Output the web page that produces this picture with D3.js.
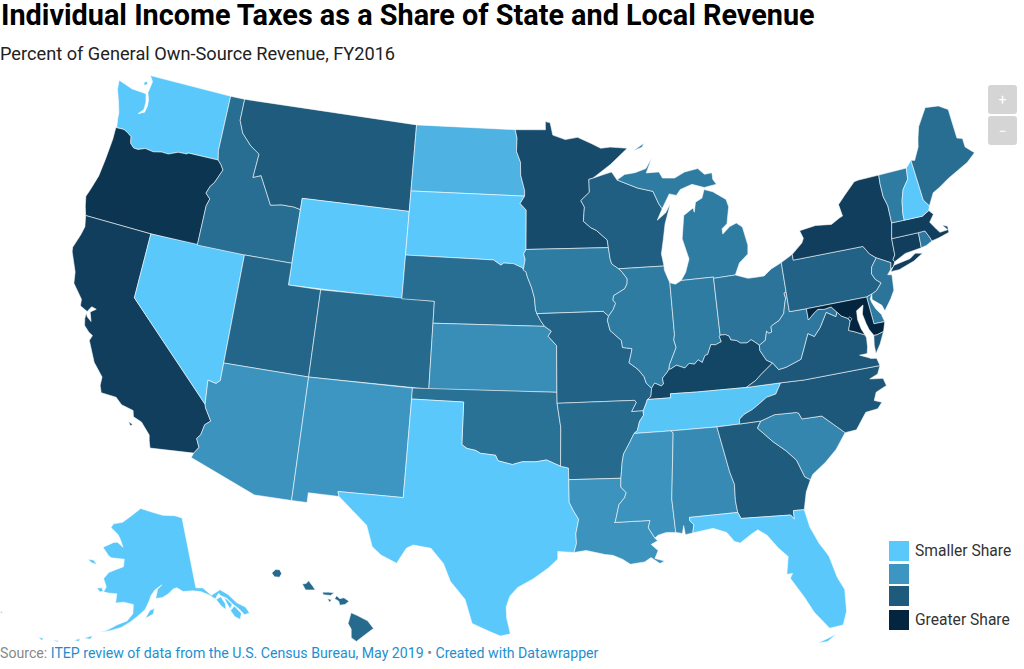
<!DOCTYPE html>
<html>
<head>
<meta charset="utf-8">
<script src="https://d3js.org/d3.v7.min.js"></script>
<style>
  body { margin: 0; background: #fff; font-family: Roboto, sans-serif; }
  svg { display: block; }
</style>
</head>
<body>
<script>
var stateNames = ["WA","OR","CA","NV","ID","MT","WY","UT","AZ","CO","NM","ND","SD","NE","KS","OK","TX","MN","IA","MO","AR","LA","WI","IL","MI","IN","OH","KY","TN","MS","AL","GA","FL","SC","NC","VA","WV","PA","NY","NJ","DE","MD","DC","CT","RI","MA","VT","NH","ME","AK","HI"]
var stateShares = [0,22.5,21,0,14,16.5,0,15,8.7,14.5,8.3,3.5,0,14,9.5,13.5,0,19,12,15.5,14.5,8.7,16,12,12,12,13,20,0.5,8.7,10,16.5,0,10.5,17,17,12.5,15.5,21,13,12,25,25,21,12.5,21,12,0,14,0,14.5]

var legendLabels = ["Smaller Share","","","Greater Share"]
var legendShares = [0,8.33,16.67,25]
var legendColors = ["#5ac8fa","#3d96c1","#1e5a7c","#03253f"]

// shared borders, lon/lat
var columbia = [[-124.0,46.25],[-123.45,46.27],[-123.17,46.18],[-122.88,46.05],[-122.78,45.75],[-122.5,45.58],[-122.2,45.57],[-121.75,45.70],[-121.2,45.65],[-120.65,45.74],[-120.2,45.73],[-119.6,45.92],[-119.0,45.94],[-118.98,46.0],[-116.92,46.0]]
var snake = [[-117.03,42.0],[-117.03,43.83],[-116.90,44.18],[-117.22,44.40],[-117.05,44.75],[-116.84,44.95],[-116.47,45.60],[-116.67,45.82],[-116.92,46.0]]
var idMt = [[-116.05,49.0],[-116.05,48.0],[-115.7,47.45],[-115.0,46.95],[-114.35,46.65],[-114.45,45.55],[-113.95,45.7],[-113.45,45.05],[-113.0,44.45],[-112.3,44.55],[-111.5,44.55],[-111.05,44.48]]
var coloradoCa = [[-114.63,35.0],[-114.57,34.85],[-114.14,34.30],[-114.43,34.08],[-114.54,33.6],[-114.72,33.40],[-114.50,33.02],[-114.72,32.72]]
var coloradoNv = [[-114.04,36.19],[-114.25,36.02],[-114.74,36.1],[-114.63,35.0]]
var redRiver = [[-100.0,34.56],[-99.7,34.40],[-99.2,34.32],[-98.95,34.20],[-98.1,34.13],[-97.95,33.88],[-97.15,33.72],[-96.6,33.85],[-95.85,33.85],[-95.25,33.93],[-94.48,33.64]]
var txLa = [[-94.04,33.02],[-94.04,31.99],[-93.82,31.6],[-93.55,31.2],[-93.72,30.55],[-93.7,30.1],[-93.84,29.69]]
var neNorth = [[-104.05,43.0],[-98.5,43.0],[-98.02,42.77],[-97.85,42.87],[-97.25,42.85],[-96.72,42.68],[-96.45,42.49]]
var iaNe = [[-96.45,42.49],[-96.35,42.23],[-96.1,41.78],[-95.92,41.3],[-95.85,40.75],[-95.77,40.58]]
var moNe = [[-95.77,40.58],[-95.55,40.26],[-95.31,40.0]]
var ksMo = [[-95.31,40.0],[-94.9,39.78],[-95.1,39.55],[-94.6,39.12],[-94.62,37.0]]
var sdIa = [[-96.45,42.49],[-96.62,42.55],[-96.5,43.05],[-96.6,43.3],[-96.45,43.5]]
var ndMn = [[-97.23,49.0],[-97.1,48.6],[-97.13,48.0],[-96.85,47.5],[-96.83,46.9],[-96.56,46.2],[-96.56,45.94]]
var sdMn = [[-96.56,45.94],[-96.85,45.6],[-96.45,45.3],[-96.45,43.5]]
var mnWi = [[-92.02,46.71],[-92.29,46.66],[-92.29,46.07],[-92.87,45.7],[-92.65,45.4],[-92.75,44.75],[-92.3,44.45],[-91.92,44.3],[-91.27,43.85],[-91.22,43.5]]
var iaWi = [[-91.22,43.5],[-91.15,43.0],[-91.06,42.75],[-90.64,42.51]]
var iaIl = [[-90.64,42.51],[-90.42,42.33],[-90.15,42.03],[-90.18,41.8],[-90.34,41.59],[-91.05,41.3],[-91.1,41.1],[-90.95,40.95],[-91.12,40.67],[-91.42,40.38]]
var moIl = [[-91.42,40.38],[-91.5,40.2],[-91.37,39.73],[-90.72,39.25],[-90.68,38.93],[-90.12,38.85],[-90.2,38.6],[-90.35,38.22],[-89.85,37.9],[-89.52,37.55],[-89.42,37.25],[-89.13,37.0]]
var moKy = [[-89.13,37.0],[-89.2,36.63],[-89.42,36.5]]
var moTn = [[-89.42,36.5],[-89.52,36.3],[-89.7,36.0]]
var arTn = [[-89.7,36.0],[-89.7,35.8],[-89.95,35.53],[-90.1,35.13],[-90.3,35.0]]
var arMs = [[-90.3,35.0],[-90.58,34.6],[-90.95,34.1],[-91.05,33.75],[-91.17,33.0]]
var laMs = [[-91.17,33.0],[-91.2,32.6],[-90.92,32.33],[-91.03,32.1],[-91.35,31.8],[-91.58,31.05],[-91.63,31.0],[-89.73,31.0],[-89.84,30.67],[-89.53,30.18]]
var ohWv = [[-80.52,40.64],[-80.66,40.58],[-80.61,40.35],[-80.73,40.08],[-80.87,39.68],[-81.22,39.39],[-81.56,39.27],[-81.75,39.18],[-81.75,38.93],[-81.93,38.89],[-82.05,39.0],[-82.2,38.6],[-82.59,38.42]]
var ohKy = [[-82.59,38.42],[-82.84,38.6],[-83.03,38.72],[-83.3,38.6],[-83.67,38.63],[-83.9,38.77],[-84.23,38.83],[-84.3,39.01],[-84.51,39.1],[-84.82,39.1]]
var inKy = [[-84.82,39.1],[-84.88,39.06],[-84.8,38.8],[-85.17,38.69],[-85.43,38.73],[-85.68,38.3],[-85.85,38.26],[-86.05,37.96],[-86.28,38.1],[-86.52,37.92],[-86.82,37.98],[-87.1,37.79],[-87.58,37.95],[-87.93,37.8],[-88.03,37.8]]
var ilKy = [[-88.03,37.8],[-88.16,37.66],[-88.45,37.42],[-88.42,37.15],[-88.56,37.07],[-88.93,37.22],[-89.13,37.0]]
var ilIn = [[-87.53,41.71],[-87.53,39.35],[-87.6,39.1],[-87.5,38.75],[-87.98,38.0],[-88.03,37.8]]
var kyTn = [[-89.42,36.5],[-88.07,36.5],[-88.07,36.68],[-86.5,36.65],[-83.68,36.6]]
var kyVa = [[-83.68,36.6],[-83.1,36.85],[-82.72,37.1],[-81.97,37.54]]
var kyWv = [[-81.97,37.54],[-82.3,37.7],[-82.6,38.17],[-82.59,38.42]]
var tnNc = [[-84.32,34.99],[-84.29,35.21],[-84.0,35.4],[-83.5,35.57],[-83.1,35.77],[-82.6,36.03],[-82.05,36.12],[-81.68,36.59]]
var alGa = [[-85.61,34.98],[-85.18,32.87],[-85.0,32.3],[-85.05,31.55],[-85.0,31.0]]
var msAl = [[-88.2,35.0],[-88.1,34.89],[-88.47,31.9],[-88.4,30.37]]
var flAl = [[-85.0,31.0],[-87.6,31.0],[-87.6,30.85],[-87.4,30.65],[-87.5,30.28]]
var gaFl = [[-81.45,30.72],[-82.03,30.75],[-82.05,30.36],[-82.21,30.57],[-84.86,30.71],[-85.0,31.0]]
var savannah = [[-83.11,35.0],[-83.35,34.7],[-82.6,34.0],[-81.95,33.5],[-81.45,33.0],[-81.15,32.2],[-80.87,32.03]]
var scNc = [[-83.11,35.0],[-82.3,35.2],[-81.05,35.15],[-80.93,35.1],[-80.8,34.82],[-79.67,34.8],[-78.55,33.87]]
var vaWv = [[-77.72,39.32],[-77.83,39.13],[-78.35,39.4],[-78.87,38.77],[-79.3,38.42],[-79.65,38.6],[-80.3,37.5],[-81.23,37.25],[-81.68,37.2],[-81.97,37.54]]
var mdWv = [[-79.48,39.72],[-79.48,39.2],[-79.07,39.47],[-78.8,39.6],[-78.45,39.55],[-78.0,39.6],[-77.72,39.32]]
var potomac = [[-76.35,38.05],[-76.95,38.3],[-77.25,38.4],[-77.05,38.79],[-77.12,38.93],[-77.5,39.1],[-77.72,39.32]]
var nyVt = [[-73.35,45.01],[-73.4,44.6],[-73.4,44.0],[-73.25,43.55],[-73.27,42.75]]
var vtNh = [[-71.5,45.01],[-71.6,44.5],[-72.05,44.1],[-72.3,43.6],[-72.45,43.0],[-72.46,42.73]]
var nhMe = [[-71.08,45.3],[-70.98,43.4],[-70.7,43.07]]
var maNorth = [[-73.27,42.75],[-72.46,42.73],[-71.3,42.7],[-70.82,42.87]]
var maRi = [[-71.8,42.02],[-71.38,42.02],[-71.2,41.7],[-71.12,41.5]]
var ctNy = [[-73.5,42.05],[-73.55,41.3],[-73.73,41.1],[-73.65,41.0]]
var nyNj = [[-73.9,41.0],[-74.7,41.36],[-75.05,41.6],[-75.35,42.0]]
var njPa = [[-74.7,41.36],[-75.1,41.0],[-75.2,40.7],[-75.05,40.42],[-74.75,40.2],[-75.13,39.9],[-75.45,39.8]]

function rev(a) { return a.slice().reverse() }

var stateRings = {
  WA: [[[-117.04,49.0],[-122.76,49.0],[-122.5,48.75],[-122.55,48.45],[-122.6,48.2],[-122.42,47.9],[-122.38,47.6],[-122.45,47.3],[-122.85,47.15],[-122.55,47.4],[-122.55,47.75],[-122.7,48.13],[-123.1,48.15],[-123.7,48.17],[-124.72,48.38],[-124.65,47.95],[-124.35,47.45],[-124.1,46.95],[-124.05,46.65],[-123.95,46.27]].concat(columbia,[[-117.04,46.43]]),
      [[-123.05,48.62],[-122.85,48.7],[-122.78,48.58],[-122.98,48.48]]],
  OR: [[[-124.0,46.25],[-123.97,45.7],[-124.05,44.7],[-124.15,43.9],[-124.4,43.2],[-124.55,42.84],[-124.4,42.4],[-124.21,42.0],[-120.0,42.0]].concat(snake,rev(columbia))],
  CA: [[[-124.21,42.0],[-120.0,42.0],[-120.0,39.0]].concat(coloradoCa,[[-117.12,32.53],[-117.25,32.85],[-117.32,33.1],[-117.9,33.6],[-118.4,33.75],[-118.5,34.02],[-119.2,34.15],[-119.6,34.42],[-120.47,34.45],[-120.63,34.75],[-120.65,35.15],[-121.3,35.7],[-121.9,36.6],[-121.8,36.85],[-122.05,36.95],[-122.4,37.2],[-122.5,37.5],[-122.5,37.75],[-122.38,37.6],[-122.1,37.45],[-122.3,37.85],[-122.0,38.05],[-122.3,38.1],[-122.48,37.84],[-122.95,38.0],[-123.0,38.3],[-123.7,38.9],[-123.82,39.4],[-124.35,40.25],[-124.4,40.45],[-124.15,41.1],[-124.05,41.5]]),
      [[-118.6,33.48],[-118.35,33.4],[-118.45,33.32]]],
  NV: [[[-120.0,42.0],[-114.04,42.0],[-114.04,36.19]].concat(coloradoNv.slice(1),[[-120.0,39.0]])],
  ID: [[[-117.04,49.0]].concat(idMt,[[-111.05,42.0],[-114.04,42.0]],snake,[[-117.04,46.43]])],
  MT: [[[-116.05,49.0],[-104.05,49.0],[-104.05,45.0],[-111.05,45.0]].concat(rev(idMt))],
  WY: [[[-111.05,45.0],[-104.05,45.0],[-104.05,41.0],[-111.05,41.0]]],
  UT: [[[-114.04,42.0],[-111.05,42.0],[-111.05,41.0],[-109.05,41.0],[-109.05,37.0],[-114.04,37.0]]],
  AZ: [[[-114.04,37.0],[-109.05,37.0],[-109.05,31.33],[-111.07,31.33],[-114.81,32.5]].concat(rev(coloradoCa),rev(coloradoNv))],
  CO: [[[-109.05,41.0],[-102.05,41.0],[-102.05,37.0],[-109.05,37.0]]],
  NM: [[[-109.05,37.0],[-103.0,37.0],[-103.0,36.5],[-103.06,32.0],[-106.62,32.0],[-106.53,31.78],[-108.21,31.78],[-108.21,31.33],[-109.05,31.33]]],
  ND: [[[-104.05,49.0]].concat(ndMn,[[-104.05,45.94]])],
  SD: [[[-104.05,45.94]].concat(sdMn,rev(sdIa),rev(neNorth))],
  NE: [neNorth.concat(iaNe,moNe,[[-102.05,40.0],[-102.05,41.0],[-104.05,41.0]])],
  KS: [[[-102.05,40.0]].concat(ksMo,[[-102.05,37.0]])],
  OK: [[[-103.0,37.0],[-94.62,37.0],[-94.62,36.5],[-94.43,35.4]].concat(rev(redRiver),[[-100.0,36.5],[-103.0,36.5]])],
  TX: [[[-103.0,36.5],[-100.0,36.5]].concat(redRiver,[[-94.04,33.55]],txLa,[[-94.7,29.75],[-94.7,29.4],[-95.2,29.0],[-96.0,28.5],[-96.8,28.1],[-97.2,27.7],[-97.38,27.2],[-97.35,26.7],[-97.15,25.96],[-97.65,25.85],[-98.2,26.05],[-99.1,26.4],[-99.5,27.5],[-100.3,28.3],[-100.7,29.1],[-101.4,29.77],[-102.35,29.87],[-102.7,29.7],[-103.15,28.98],[-104.0,29.3],[-104.5,29.65],[-104.9,30.6],[-106.0,31.4],[-106.53,31.78],[-106.62,32.0],[-103.06,32.0]])],
  MN: [[[-97.23,49.0],[-95.15,49.0],[-95.15,49.38],[-94.82,49.32],[-94.65,48.75],[-93.8,48.53],[-92.95,48.62],[-92.0,48.3],[-91.4,48.07],[-90.75,48.1],[-89.6,48.0],[-90.8,47.3]].concat(mnWi,rev(sdMn),rev(ndMn))],
  IA: [[[-96.45,43.5]].concat(mnWi.slice(-1),iaWi,iaIl,[[-91.73,40.61],[-95.77,40.58]],rev(iaNe),sdIa)],
  MO: [[[-95.77,40.58],[-91.73,40.61]].concat(moIl,moKy,moTn,[[-90.37,36.0],[-90.07,36.4],[-90.15,36.5],[-94.62,36.5]],rev(ksMo),rev(moNe))],
  AR: [[[-94.62,36.5],[-90.15,36.5],[-90.07,36.4],[-90.37,36.0]].concat(arTn,arMs,[[-94.04,33.02],[-94.04,33.55],[-94.48,33.64],[-94.43,35.4]])],
  LA: [laMs.concat([[-89.4,30.05],[-89.75,29.9],[-89.4,29.6],[-89.6,29.25],[-89.1,29.1],[-89.35,29.0],[-89.8,29.3],[-90.15,29.12],[-90.9,29.05],[-91.3,29.3],[-91.8,29.5],[-92.2,29.55],[-93.2,29.77]],rev(txLa))],
  WI: [mnWi.concat(iaWi,[[-87.8,42.49],[-87.9,43.05],[-87.7,43.7],[-87.5,44.4],[-87.05,45.28],[-87.4,44.9],[-87.98,44.6],[-87.6,45.1],[-87.8,45.35],[-88.1,45.93],[-89.1,46.14],[-90.42,46.57],[-90.75,46.95],[-91.2,46.87]])],
  IL: [iaIl.slice(0,1).concat([[-87.8,42.49],[-87.8,42.3],[-87.6,41.85]],ilIn,ilKy,rev(moIl),rev(iaIl))],
  MI: [[[-90.42,46.57],[-89.9,46.8],[-89.2,46.85],[-88.45,47.0],[-88.0,47.47],[-88.45,46.8],[-87.6,46.8],[-87.4,46.5],[-86.6,46.45],[-85.9,46.68],[-85.0,46.77],[-84.6,46.47],[-84.1,46.5],[-84.1,46.2],[-83.9,45.95],[-84.72,45.87],[-85.5,46.08],[-86.3,45.9],[-86.6,45.65],[-87.05,45.75],[-87.6,45.1],[-87.8,45.35],[-88.1,45.93],[-89.1,46.14]],
      [[-86.82,41.76],[-86.5,42.1],[-86.2,42.7],[-86.5,43.65],[-86.25,44.7],[-85.6,45.0],[-85.55,44.8],[-85.4,45.25],[-84.95,45.4],[-84.75,45.78],[-84.2,45.63],[-83.4,45.2],[-83.3,44.85],[-83.55,44.1],[-83.9,43.9],[-83.9,43.65],[-83.4,43.95],[-82.95,44.07],[-82.6,43.85],[-82.42,43.0],[-82.5,42.6],[-83.1,42.25],[-83.45,41.73],[-84.81,41.7],[-84.81,41.76]],
      [[-89.2,47.87],[-88.45,48.17],[-88.6,48.0]]],
  IN: [[[-87.53,41.71],[-87.2,41.62],[-86.82,41.76],[-84.81,41.76]].concat(inKy,rev(ilIn))],
  OH: [[[-84.81,41.7],[-83.45,41.73],[-82.7,41.5],[-82.0,41.5],[-81.7,41.5],[-81.2,41.77],[-80.52,41.98]].concat(ohWv,ohKy)],
  KY: [kyTn.concat(kyVa,kyWv,ohKy,inKy,ilKy,moKy)],
  TN: [[[-90.3,35.0],[-88.2,35.0],[-85.61,34.98]].concat(tnNc,[[-83.68,36.6]],rev(kyTn),moTn,arTn)],
  MS: [[[-90.3,35.0]].concat(msAl,[[-88.9,30.4],[-89.35,30.3]],rev(laMs),rev(arMs))],
  AL: [[[-88.2,35.0]].concat(alGa,flAl,[[-87.9,30.23],[-87.95,30.65],[-88.05,30.3]],rev(msAl))],
  GA: [alGa.concat(rev(gaFl),[[-81.2,31.5]],rev(savannah),[[-84.32,34.99]])],
  FL: [[[-87.6,31.0],[-85.0,31.0]].concat(rev(gaFl),[[-81.3,29.9],[-80.95,29.1],[-80.55,28.45],[-80.3,27.4],[-80.03,26.8],[-80.12,25.8],[-80.4,25.2],[-81.1,25.15],[-81.75,26.0],[-82.1,26.7],[-82.7,27.7],[-82.55,27.9],[-82.85,27.9],[-82.65,28.7],[-83.1,29.15],[-83.6,29.8],[-84.05,30.1],[-84.4,29.95],[-85.05,29.6],[-85.35,29.7],[-85.7,30.15],[-86.4,30.4],[-87.5,30.28],[-87.4,30.65],[-87.6,30.85]]),
      [[-81.8,24.55],[-81.25,24.7],[-80.8,24.85],[-81.3,24.55]]],
  SC: [scNc.concat([[-79.2,33.2],[-79.9,32.7],[-80.7,32.25]],rev(savannah))],
  NC: [tnNc.concat([[-80.3,36.55],[-75.87,36.55],[-76.1,36.2],[-76.6,36.05],[-75.85,35.95],[-75.75,35.6],[-76.4,35.4],[-76.6,35.05],[-76.2,34.9],[-76.5,34.65],[-77.2,34.6],[-77.9,33.9]],rev(scNc),[[-84.32,34.99]])],
  VA: [[[-83.68,36.6],[-81.68,36.59],[-80.3,36.55],[-75.87,36.55],[-75.97,36.9],[-76.3,36.95],[-76.4,37.0],[-76.9,37.2],[-76.45,37.2],[-76.35,37.5],[-76.3,37.9]].concat(potomac,vaWv,rev(kyVa)),
      [[-75.85,37.95],[-75.65,37.95],[-75.24,38.03],[-75.6,37.5],[-75.95,37.12],[-75.95,37.5]]],
  WV: [[[-80.52,40.64],[-80.52,39.72]].concat(mdWv,vaWv.slice(1),kyWv,rev(ohWv))],
  PA: [[[-79.76,42.27],[-79.76,42.0],[-75.35,42.0],[-75.05,41.6]].concat(njPa,[[-75.79,39.72],[-79.48,39.72],[-80.52,39.72],[-80.52,40.64],[-80.52,41.98]])],
  NY: [[[-79.76,42.27],[-79.05,42.7],[-78.9,42.9],[-79.05,43.27],[-78.0,43.37],[-77.0,43.28],[-76.4,43.5],[-76.2,43.55],[-76.3,44.1],[-75.8,44.45],[-75.0,44.97],[-74.7,45.0]].concat(nyVt,ctNy,[[-73.8,40.8],[-74.0,40.7]],nyNj,[[-79.76,42.0]]),
      [[-74.03,40.6],[-73.75,40.85],[-72.7,40.97],[-72.3,41.15],[-71.87,41.07],[-72.5,40.82],[-73.5,40.6]]],
  NJ: [[[-73.9,41.0],[-74.0,40.7],[-74.25,40.5],[-74.0,40.45],[-74.1,39.75],[-74.4,39.4],[-74.9,38.93],[-75.0,39.2],[-75.5,39.55],[-75.45,39.8]].concat(rev(njPa))],
  DE: [[[-75.79,39.72],[-75.45,39.8],[-75.6,39.6],[-75.55,39.4],[-75.4,39.1],[-75.15,38.8],[-75.05,38.45],[-75.7,38.46]]],
  MD: [[[-79.48,39.72],[-75.79,39.72],[-75.7,38.46],[-75.05,38.45],[-75.24,38.03],[-75.65,37.95],[-75.85,37.95],[-76.05,38.25],[-76.15,38.55],[-76.25,39.0],[-76.1,39.4],[-76.55,39.2],[-76.6,38.8],[-76.5,38.35]].concat(potomac,rev(mdWv))],
  DC: [[[-77.12,38.93],[-77.04,39.0],[-76.91,38.89],[-77.04,38.79]]],
  CT: [[[-73.5,42.05],[-71.8,42.02],[-71.86,41.32],[-72.9,41.25]].concat(rev(ctNy))],
  RI: [maRi.concat([[-71.5,41.37],[-71.86,41.32]])],
  MA: [maNorth.concat([[-70.6,42.65],[-70.95,42.35],[-70.65,41.95],[-70.5,41.78],[-70.0,41.8],[-70.25,42.07],[-69.95,41.95],[-69.97,41.67],[-70.65,41.55]],rev(maRi),[[-73.5,42.05]])],
  VT: [[[-73.35,45.01]].concat(vtNh,rev(nyVt))],
  NH: [[[-71.5,45.01]].concat(nhMe,[[-70.82,42.87],[-71.3,42.7]],rev(vtNh))],
  ME: [[[-71.08,45.3],[-70.85,45.25],[-70.4,45.8],[-70.25,46.2],[-70.0,46.7],[-69.23,47.46],[-69.0,47.43],[-68.35,47.36],[-67.79,47.07],[-67.79,45.7],[-67.45,45.6],[-67.45,45.2],[-66.98,44.82],[-67.6,44.5],[-68.4,44.25],[-69.05,44.05],[-69.8,43.75],[-70.25,43.6],[-70.7,43.07],[-70.98,43.4]]],
  AK: [[[-141.0,69.65],[-143.5,70.1],[-148.0,70.35],[-152.0,70.85],[-156.6,71.35],[-160.0,70.3],[-163.0,69.3],[-166.2,68.9],[-166.8,68.35],[-164.0,67.6],[-163.0,67.05],[-161.8,66.05],[-163.8,66.6],[-165.0,66.5],[-168.1,65.6],[-166.0,64.7],[-165.0,64.45],[-161.0,64.5],[-161.0,63.5],[-163.0,63.05],[-165.0,62.5],[-166.1,61.6],[-165.0,60.6],[-165.5,59.9],[-164.0,59.85],[-162.0,59.9],[-162.0,58.7],[-160.0,58.9],[-157.5,58.7],[-157.5,57.5],[-158.8,56.5],[-161.0,55.9],[-163.0,55.1],[-164.9,54.6],[-162.5,55.0],[-160.0,55.6],[-158.0,56.4],[-156.3,57.2],[-154.5,58.1],[-153.5,59.2],[-153.0,59.9],[-152.0,60.6],[-150.0,61.25],[-151.2,60.7],[-151.8,59.5],[-150.0,59.6],[-148.5,60.0],[-147.0,60.6],[-146.0,60.7],[-144.5,60.1],[-142.0,60.0],[-140.0,59.7],[-138.0,59.0],[-136.8,58.3],[-135.6,58.9],[-135.2,58.5],[-134.0,58.0],[-133.0,57.0],[-132.0,56.2],[-131.2,55.2],[-130.0,55.2],[-130.4,56.1],[-132.0,57.0],[-133.4,58.4],[-135.0,59.3],[-137.5,58.9],[-139.2,60.1],[-141.0,60.3]],
      [[-136.6,58.2],[-135.3,58.4],[-134.7,57.3],[-135.0,56.6],[-135.9,57.3]],
      [[-134.6,58.1],[-134.0,57.8],[-133.2,57.0],[-134.0,56.5]],
      [[-134.0,56.3],[-132.8,56.7],[-131.8,55.5],[-132.5,54.8],[-133.5,55.4]],
      [[-154.5,56.9],[-152.5,57.5],[-152.2,58.2],[-153.3,58.0]],
      [[-167.4,60.2],[-166.2,60.4],[-165.6,60.0],[-166.4,59.8]],
      [[-171.7,63.6],[-170.0,63.7],[-168.8,63.2],[-170.5,63.3]],
      [[-168.0,53.5],[-166.2,54.0],[-166.6,53.5]],
      [[-170.0,52.9],[-168.8,53.3],[-168.9,52.9]],
      [[-174.5,52.2],[-173.2,52.3],[-173.3,52.1]],
      [[-177.5,51.9],[-176.3,52.0],[-176.6,51.7]],
      [[172.6,52.9],[173.4,53.0],[173.3,52.8]]],
  HI: [[[-156.05,19.75],[-155.9,20.25],[-155.6,20.12],[-155.1,19.87],[-154.82,19.52],[-155.2,19.25],[-155.65,18.93],[-155.9,19.1],[-155.9,19.5]],
      [[-156.7,20.9],[-156.6,21.03],[-156.45,20.9],[-156.25,20.94],[-156.0,20.78],[-156.2,20.63],[-156.45,20.6],[-156.5,20.78]],
      [[-157.3,21.2],[-157.0,21.2],[-156.72,21.17],[-156.9,21.05],[-157.25,21.08]],
      [[-157.05,20.9],[-156.85,20.85],[-156.95,20.73]],
      [[-158.28,21.57],[-158.1,21.6],[-157.97,21.72],[-157.75,21.45],[-157.65,21.3],[-157.95,21.3],[-158.12,21.3]],
      [[-159.78,22.07],[-159.6,22.23],[-159.4,22.23],[-159.3,22.05],[-159.4,21.88],[-159.65,21.9]]]
}

var width = 1024
var height = 669

var color = d3.scaleLinear().domain(legendShares).range(legendColors)

var projection = d3.geoAlbersUsa().scale(1250).translate([523, 355])
var path = d3.geoPath(projection)

// rings have to run clockwise for d3-geo, whatever order they were listed in
function toFeature(name, i) {
  var polys = stateRings[name].map(function(ring) {
    var closed = ring.concat([ring[0]])
    var poly = { type: "Polygon", coordinates: [closed] }
    if (d3.geoArea(poly) > 2 * Math.PI) poly.coordinates = [closed.slice().reverse()]
    return poly.coordinates
  })
  return { type: "Feature", id: name, properties: { share: stateShares[i] },
           geometry: { type: "MultiPolygon", coordinates: polys } }
}
var features = stateNames.map(toFeature)

var svg = d3.select("body").append("svg").attr("width", width).attr("height", height)

svg.append("g").selectAll("path").data(features).join("path")
  .attr("d", path)
  .attr("fill", function(d) { return color(d.properties.share) })
  .attr("stroke", "#fff")
  .attr("stroke-opacity", 0.7)
  .attr("stroke-width", 0.8)
  .attr("stroke-linejoin", "round")

// heading
svg.append("text").attr("x", 1).attr("y", 24.5)
  .style("font", "700 28.8px Roboto").attr("fill", "#000")
  .text("Individual Income Taxes as a Share of State and Local Revenue")
svg.append("text").attr("x", 0).attr("y", 60)
  .style("font", "400 18.2px Roboto").attr("fill", "#222")
  .text("Percent of General Own-Source Revenue, FY2016")

// zoom buttons
var zoomLabels = ["+", "\u2212"]
svg.selectAll("rect.zoom").data(zoomLabels).join("rect").attr("class", "zoom")
  .attr("x", 988).attr("y", function(d, i) { return 85 + i * 31 })
  .attr("width", 29).attr("height", 29).attr("rx", 3).attr("fill", "#d5d5d5")
svg.selectAll("text.zoom").data(zoomLabels).join("text").attr("class", "zoom")
  .attr("x", 1002.5).attr("y", function(d, i) { return 105 + i * 31 })
  .attr("text-anchor", "middle").style("font", "400 14px Roboto").attr("fill", "#fff")
  .text(function(d) { return d })

// legend
var legendTop = [541, 564, 586, 610]
svg.selectAll("rect.legend").data(legendColors).join("rect").attr("class", "legend")
  .attr("x", 889).attr("y", function(d, i) { return legendTop[i] })
  .attr("width", 20).attr("height", 20).attr("fill", function(d) { return d })
svg.selectAll("text.legend").data(legendLabels).join("text").attr("class", "legend")
  .attr("x", 915).attr("y", function(d, i) { return legendTop[i] + 15 })
  .style("font", "400 15.6px Roboto").attr("fill", "#333")
  .text(function(d) { return d })

// source line
var source = svg.append("text").attr("x", 0).attr("y", 658).style("font", "400 14.15px Roboto").attr("fill", "#888")
source.append("tspan").text("Source: ")
source.append("tspan").attr("fill", "#1d8fcf").text("ITEP review of data from the U.S. Census Bureau, May 2019")
source.append("tspan").text(" \u2022 ")
source.append("tspan").attr("fill", "#1d8fcf").text("Created with Datawrapper")
</script>
</body>
</html>
